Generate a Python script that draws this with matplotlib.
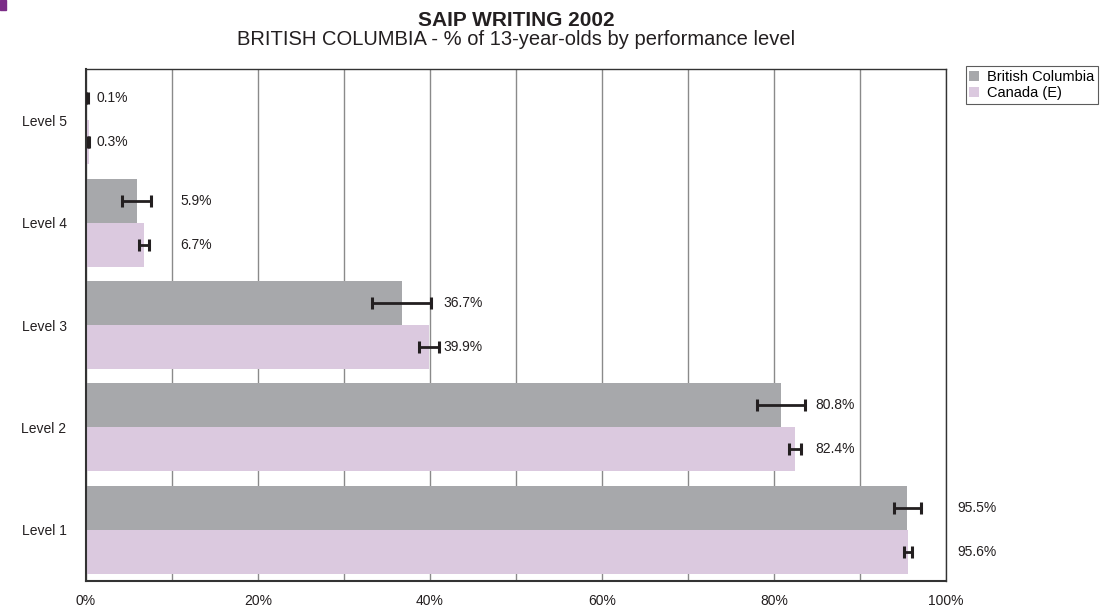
import numpy as np
import matplotlib.pyplot as plt
from matplotlib.patches import Rectangle

plt.rcParams['font.family'] = ['Liberation Sans', 'DejaVu Sans']

levels = ["Level 1", "Level 2", "Level 3", "Level 4", "Level 5"]
bc = [95.5, 80.8, 36.7, 5.9, 0.1]
bc_err = [1.6, 2.8, 3.4, 1.7, 0.1]
canada = [95.6, 82.4, 39.9, 6.7, 0.3]
canada_err = [0.5, 0.7, 1.2, 0.6, 0.1]
xticks = [0, 20, 40, 60, 80, 100]

# x position of the value labels for each level (layout)
label_x = [101.3, 84.8, 41.6, 11.0, 1.2]

gray = "#a7a8ab"
pink = "#dbc9df"
dark = "#231f20"

fig = plt.figure(figsize=(11.06, 6.08), dpi=100)
ax = fig.add_axes([0.0778, 0.0444, 0.7775, 0.8421])

y = np.arange(len(levels))
h = 0.43
ax.barh(y + h / 2, bc, height=h, color=gray, label="British Columbia", zorder=2)
ax.barh(y - h / 2, canada, height=h, color=pink, label="Canada (E)", zorder=2)
ax.errorbar(bc, y + h / 2, xerr=bc_err, fmt='none', ecolor=dark, elinewidth=2,
            capsize=4.5, capthick=2.2, zorder=3)
ax.errorbar(canada, y - h / 2, xerr=canada_err, fmt='none', ecolor=dark, elinewidth=2,
            capsize=4.5, capthick=2.2, zorder=3)

for i in range(len(levels)):
    ax.text(label_x[i], y[i] + h / 2, f"{bc[i]}%", va='center', ha='left',
            fontsize=10, color=dark, clip_on=False)
    ax.text(label_x[i], y[i] - h / 2, f"{canada[i]}%", va='center', ha='left',
            fontsize=10, color=dark, clip_on=False)

ax.set_xlim(0, 100)
ax.set_ylim(-0.5, 4.5)
ax.set_xticks(np.arange(0, 101, 10), minor=True)
ax.set_xticks(xticks)
ax.set_xticklabels([f"{t}%" for t in xticks], fontsize=10, color=dark)
ax.set_yticks(y)
ax.set_yticklabels(levels, fontsize=10, color=dark)
ax.tick_params(axis='both', which='both', length=0)
ax.tick_params(axis='y', pad=14)
ax.tick_params(axis='x', pad=9)
ax.grid(axis='x', which='both', color='#8a8a8a', linewidth=1, zorder=1)
for s in ax.spines.values():
    s.set_color('#333333')
    s.set_linewidth(1)
ax.spines['left'].set_linewidth(1.5)
ax.spines['bottom'].set_linewidth(1.5)

fig.text(0.4665, 0.957, "SAIP WRITING 2002", ha='center', va='baseline',
         fontsize=15, fontweight='bold', color=dark)
fig.text(0.4665, 0.926, "BRITISH COLUMBIA - % of 13-year-olds by performance level",
         ha='center', va='baseline', fontsize=14.5, color=dark)

handles, labels = ax.get_legend_handles_labels()
leg = fig.legend(handles, labels, loc='upper left',
                 bbox_to_anchor=(0.873, 0.891), fontsize=10.5, frameon=True,
                 fancybox=False, edgecolor='#333333', handlelength=0.7,
                 handleheight=0.7, handletextpad=0.5, borderpad=0.25,
                 labelspacing=0.15, borderaxespad=0)
leg.get_frame().set_linewidth(0.8)

fig.patches.append(Rectangle((0, 0.983), 0.005, 0.017, transform=fig.transFigure,
                             color='#7b2c87', zorder=5))

fig.savefig("out.png", dpi=100)
